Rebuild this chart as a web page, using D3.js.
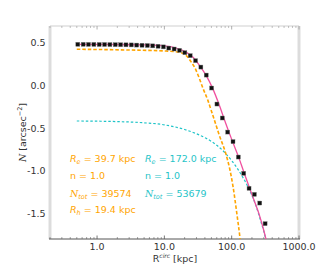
<!DOCTYPE html>
<html>
<head>
<meta charset="utf-8">
<script src="https://cdn.jsdelivr.net/npm/d3@7"></script>
<style>
  html, body { margin: 0; padding: 0; background: #fff; }
  svg { display: block; font-family: "DejaVu Sans", sans-serif; }
</style>
</head>
<body>
<svg id="chart" width="332" height="266"></svg>
<script>
// ---- data ----
const radiusData = [0.518, 0.622, 0.746, 0.897, 1.076, 1.293, 1.552, 1.864, 2.239, 2.689,
  3.228, 3.877, 4.656, 5.591, 6.714, 8.063, 9.683, 11.63, 13.96, 16.77,
  20.14, 24.18, 29.04, 34.87, 41.88, 50.29, 60.39, 72.53, 87.10, 104.6,
  125.6, 150.8, 181.1, 217.5, 261.2, 313.7];
const densityData = [0.485, 0.485, 0.484, 0.484, 0.483, 0.483, 0.482, 0.481, 0.480, 0.479,
  0.478, 0.476, 0.474, 0.471, 0.467, 0.462, 0.455, 0.441, 0.430, 0.414,
  0.387, 0.352, 0.293, 0.218, 0.124, -0.028, -0.216, -0.380, -0.545, -0.657,
  -0.838, -1.029, -1.205, -1.276, -1.378, -1.620];

// component 1 (orange)
const radiusComp1 = [0.5, 2.2, 10.6, 16.5, 21, 24.9, 29.6, 33.1, 37.2, 44.2, 49.4, 55.4, 65, 82.6, 93.1, 105, 118.3, 133.3, 140];
const densityComp1 = [0.427, 0.420, 0.406, 0.392, 0.356, 0.280, 0.180, 0.085, -0.025, -0.170, -0.285, -0.405, -0.575,
  -0.810, -0.970, -1.190, -1.480, -1.800, -1.960];

// component 2 (cyan)
const radiusComp2 = [0.5, 1, 2, 5, 10, 20, 30, 40, 50, 60, 80, 100, 120, 140, 160, 180, 200, 225, 250, 275, 300, 330];
const densityComp2 = [-0.415, -0.417, -0.422, -0.436, -0.460, -0.515, -0.565, -0.610, -0.655, -0.700, -0.790, -0.880,
  -0.965, -1.050, -1.130, -1.210, -1.290, -1.390, -1.500, -1.610, -1.710, -1.840];

// total model (pink)
const radiusTotal = [0.5, 1, 2, 5, 10.6, 14.9, 21, 26.4, 33.1, 41.7, 52.4, 65.6, 78, 90, 104, 127.6, 151, 183, 217, 258, 300, 330];
const densityTotal = [0.484, 0.484, 0.483, 0.478, 0.463, 0.441, 0.394, 0.336, 0.239, 0.121, -0.035, -0.231, -0.400,
  -0.535, -0.665, -0.845, -1.010, -1.195, -1.355, -1.520, -1.700, -1.830];

const xTickValues = [1, 10, 100, 1000];
const yTickValues = [0.5, 0.0, -0.5, -1.0, -1.5];

const comp1Labels = { Re: "39.7", n: "1.0", Ntot: "39574", Rh: "19.4" };
const comp2Labels = { Re: "172.0", n: "1.0", Ntot: "53679" };

// ---- layout ----
const svg = d3.select("#chart");
const mLeft = 50, mRight = 299, mTop = 26, mBottom = 239;
const x = d3.scaleLog().domain([0.2, 1000]).range([mLeft, mRight]);
const y = d3.scaleLinear().domain([-1.8, 0.7]).range([mBottom, mTop]);

const orange = "#ffa500", cyan = "#1fc4c8", pink = "#f0509f";

svg.append("defs").append("clipPath").attr("id", "clip")
  .append("rect").attr("x", mLeft).attr("y", mTop).attr("width", mRight - mLeft).attr("height", mBottom - mTop);

// spines
svg.append("line").attr("x1", mLeft).attr("x2", mRight).attr("y1", mTop).attr("y2", mTop)
  .attr("stroke", "#cfcfcf").attr("stroke-width", 1);
svg.append("line").attr("x1", mLeft).attr("x2", mLeft).attr("y1", mTop).attr("y2", mBottom)
  .attr("stroke", "#dcdcdc").attr("stroke-width", 3);
svg.append("line").attr("x1", mRight).attr("x2", mRight).attr("y1", mTop).attr("y2", mBottom)
  .attr("stroke", "#dcdcdc").attr("stroke-width", 3);

// x ticks (major + minor) top and bottom, inward
const minor = [];
[0.1, 1, 10, 100].forEach(d => {
  for (let k = 2; k <= 9; k++) { const v = d * k; if (v >= 0.2 && v <= 1000) minor.push(v); }
});
const tg = svg.append("g");
minor.forEach(v => {
  tg.append("line").attr("x1", x(v)).attr("x2", x(v)).attr("y1", mBottom).attr("y2", mBottom - 2)
    .attr("stroke", "#666").attr("stroke-width", 0.6);
  tg.append("line").attr("x1", x(v)).attr("x2", x(v)).attr("y1", mTop).attr("y2", mTop + 2)
    .attr("stroke", "#999").attr("stroke-width", 0.6);
});
xTickValues.forEach(v => {
  tg.append("line").attr("x1", x(v)).attr("x2", x(v)).attr("y1", mBottom).attr("y2", mBottom - 3.5)
    .attr("stroke", "#555").attr("stroke-width", 0.8);
  tg.append("line").attr("x1", x(v)).attr("x2", x(v)).attr("y1", mTop).attr("y2", mTop + 3.5)
    .attr("stroke", "#999").attr("stroke-width", 0.8);
});

// bottom axis line
svg.append("line").attr("x1", mLeft - 1).attr("x2", mRight + 1).attr("y1", mBottom).attr("y2", mBottom)
  .attr("stroke", "#555").attr("stroke-width", 1);

// x tick labels
svg.append("g").selectAll("text").data(xTickValues).join("text")
  .attr("x", d => x(d)).attr("y", 249.5).attr("text-anchor", "middle")
  .attr("font-size", 9.5).attr("fill", "#333")
  .text(d => d3.format(".1f")(d));

// y tick labels
svg.append("g").selectAll("text").data(yTickValues).join("text")
  .attr("x", 45.5).attr("y", d => y(d) + 3.3).attr("text-anchor", "end")
  .attr("font-size", 9.5).attr("fill", "#333")
  .text(d => d3.format(".1f")(d).replace("−", "-"));

// axis labels
const xl = svg.append("text").attr("x", 175).attr("y", 262).attr("text-anchor", "middle")
  .attr("font-size", 9.5).attr("fill", "#333");
xl.append("tspan").text("R");
xl.append("tspan").attr("font-size", 6).attr("dy", -4).attr("font-style", "italic").text("circ");
xl.append("tspan").attr("dy", 4).text(" [kpc]");

const yl = svg.append("text").attr("transform", "translate(26,132.5) rotate(-90)")
  .attr("text-anchor", "middle").attr("font-size", 9.5).attr("fill", "#333");
yl.append("tspan").attr("font-family", "DejaVu Serif").attr("font-style", "italic").text("N");
yl.append("tspan").text(" [arcsec");
yl.append("tspan").attr("font-size", 6.5).attr("dy", -4).text("−2");
yl.append("tspan").attr("dy", 4).text("]");

// curves
const plot = svg.append("g").attr("clip-path", "url(#clip)");
const lineGen = (rs, vs) => d3.line().curve(d3.curveMonotoneX)
  .x(i => x(rs[i])).y(i => y(vs[i]))(d3.range(rs.length));

plot.append("path").attr("d", lineGen(radiusComp2, densityComp2))
  .attr("fill", "none").attr("stroke", cyan).attr("stroke-width", 1.2).attr("stroke-dasharray", "2.5,2");
plot.append("path").attr("d", lineGen(radiusComp1, densityComp1))
  .attr("fill", "none").attr("stroke", orange).attr("stroke-width", 1.6).attr("stroke-dasharray", "3.5,2");
plot.append("path").attr("d", lineGen(radiusTotal, densityTotal))
  .attr("fill", "none").attr("stroke", pink).attr("stroke-width", 1.3);

// data points
plot.selectAll("rect.pt").data(d3.range(radiusData.length)).join("rect")
  .attr("class", "pt")
  .attr("x", i => x(radiusData[i]) - 2).attr("y", i => y(densityData[i]) - 2)
  .attr("width", 4).attr("height", 4).attr("fill", "#111").attr("stroke", "#777").attr("stroke-width", 0.4);

// annotations
function annot(xp, yp, color, parts) {
  const t = svg.append("text").attr("x", xp).attr("y", yp).attr("font-size", 9.5).attr("fill", color);
  parts.forEach(p => {
    const s = t.append("tspan").text(p.t);
    if (p.it) s.attr("font-style", "italic");
    if (p.ff) s.attr("font-family", p.ff);
    if (p.sub) s.attr("font-size", p.sub > 0 ? 6.5 : 9.5).attr("dy", p.sub);
  });
  return t;
}
annot(70, 162, orange, [{t: "R", it: 1}, {t: "e", it: 1, sub: 2}, {t: " = " + comp1Labels.Re + " kpc", sub: -2}]);
annot(70, 179, orange, [{t: "n = " + comp1Labels.n}]);
annot(70, 196.5, orange, [{t: "N", it: 1, ff: "DejaVu Serif"}, {t: "tot", it: 1, sub: 2}, {t: " = " + comp1Labels.Ntot, sub: -2}]);
annot(70, 213, orange, [{t: "R", it: 1}, {t: "h", it: 1, sub: 2}, {t: " = " + comp1Labels.Rh + " kpc", sub: -2}]);

annot(145, 162, cyan, [{t: "R", it: 1}, {t: "e", it: 1, sub: 2}, {t: " = " + comp2Labels.Re + " kpc", sub: -2}]);
annot(145, 179, cyan, [{t: "n = " + comp2Labels.n}]);
annot(145, 196.5, cyan, [{t: "N", it: 1, ff: "DejaVu Serif"}, {t: "tot", it: 1, sub: 2}, {t: " = " + comp2Labels.Ntot, sub: -2}]);
</script>
</body>
</html>
